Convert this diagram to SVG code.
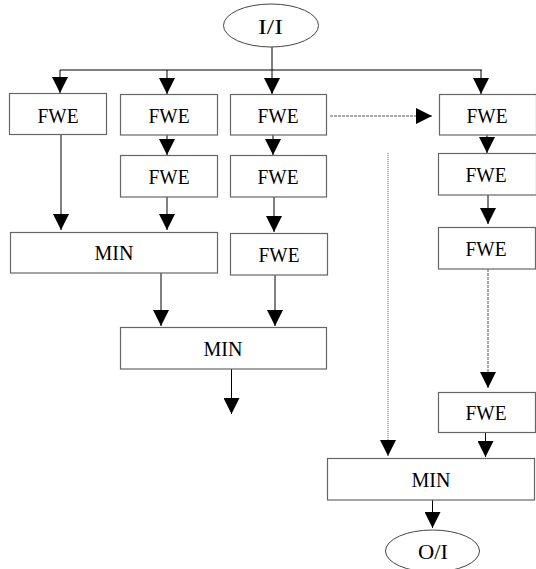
<svg xmlns="http://www.w3.org/2000/svg" width="536" height="569" viewBox="0 0 536 569">
<style>
.box{fill:#fff;stroke:#666;stroke-width:1.2}
.ell{fill:#fff;stroke:#444;stroke-width:1}
text{font-family:'Liberation Serif','DejaVu Serif',serif;font-size:22px;fill:#000;text-anchor:middle}
.c{stroke:#000;stroke-width:1;fill:none}
.d{stroke:#555;stroke-width:1;fill:none;stroke-dasharray:3,1}
.o{stroke:#666;stroke-width:1;fill:none;stroke-dasharray:1,1}
</style>
<defs>
<marker id="ah" markerUnits="userSpaceOnUse" markerWidth="16" markerHeight="16" viewBox="0 0 15 15" refX="15" refY="7.5" orient="auto">
<path d="M0,0 L15,7.5 L0,15 z" fill="#000"/>
</marker>
</defs>
<rect width="536" height="569" fill="#fff"/>
<g id="connectors">
<line class="c" x1="272" y1="47" x2="272" y2="70"/>
<line class="c" x1="60" y1="70" x2="482" y2="70" stroke-width="1.6"/>
<line class="c" x1="60" y1="70" x2="60" y2="93" marker-end="url(#ah)"/>
<line class="c" x1="167" y1="70" x2="167" y2="94" marker-end="url(#ah)"/>
<line class="c" x1="272" y1="70" x2="272" y2="94" marker-end="url(#ah)"/>
<line class="c" x1="481" y1="70" x2="481" y2="94" marker-end="url(#ah)"/>
<line class="c" x1="167" y1="135" x2="167" y2="155" marker-end="url(#ah)"/>
<line class="c" x1="273" y1="135" x2="273" y2="155" marker-end="url(#ah)"/>
<line class="c" x1="487" y1="135" x2="487" y2="153" marker-end="url(#ah)"/>
<line class="d" x1="330" y1="116" x2="432" y2="116" marker-end="url(#ah)"/>
<line class="c" x1="61" y1="135" x2="61" y2="230" marker-end="url(#ah)"/>
<line class="c" x1="167" y1="197" x2="167" y2="230" marker-end="url(#ah)"/>
<line class="c" x1="274" y1="197" x2="274" y2="232" marker-end="url(#ah)"/>
<line class="c" x1="488" y1="195" x2="488" y2="224" marker-end="url(#ah)"/>
<line class="c" x1="161" y1="273" x2="161" y2="326" marker-end="url(#ah)"/>
<line class="c" x1="275" y1="275" x2="275" y2="326" marker-end="url(#ah)"/>
<line class="c" x1="231.5" y1="369" x2="231.5" y2="414" marker-end="url(#ah)"/>
<line class="d" x1="488" y1="269" x2="488" y2="388" marker-end="url(#ah)"/>
<line class="c" x1="485.5" y1="432" x2="485.5" y2="457" marker-end="url(#ah)"/>
<line class="o" x1="388" y1="153" x2="388" y2="456" marker-end="url(#ah)"/>
<line class="c" x1="432.5" y1="500" x2="432.5" y2="528" marker-end="url(#ah)"/>
</g>
<g font-family="Liberation Serif, DejaVu Serif, serif" font-size="22" text-anchor="middle" fill="#000">
<g id="n-in"><ellipse class="ell" cx="271" cy="25.5" rx="47.5" ry="21.5"/><text x="270.5" y="34" textLength="25" lengthAdjust="spacingAndGlyphs">I/I</text></g>
<g id="n-fwe1"><rect class="box" x="9.5" y="93.5" width="97" height="41"/><text x="58" y="122.5" textLength="41" lengthAdjust="spacingAndGlyphs">FWE</text></g>
<g id="n-fwe2"><rect class="box" x="120.5" y="94.5" width="97" height="40.5"/><text x="169" y="122.5" textLength="41" lengthAdjust="spacingAndGlyphs">FWE</text></g>
<g id="n-fwe3"><rect class="box" x="230.5" y="94.5" width="96" height="40.5"/><text x="278" y="122.5" textLength="41" lengthAdjust="spacingAndGlyphs">FWE</text></g>
<g id="n-fwe4"><rect class="box" x="439.5" y="94.5" width="97" height="40.5"/><text x="487" y="122.5" textLength="41" lengthAdjust="spacingAndGlyphs">FWE</text></g>
<g id="n-fwe2b"><rect class="box" x="120.5" y="155.5" width="97" height="41.5"/><text x="169" y="184" textLength="41" lengthAdjust="spacingAndGlyphs">FWE</text></g>
<g id="n-fwe3b"><rect class="box" x="230.5" y="155.5" width="96" height="41.5"/><text x="278" y="184" textLength="41" lengthAdjust="spacingAndGlyphs">FWE</text></g>
<g id="n-fwe4b"><rect class="box" x="438.5" y="153.5" width="98" height="41.5"/><text x="486" y="182" textLength="41" lengthAdjust="spacingAndGlyphs">FWE</text></g>
<g id="n-min1"><rect class="box" x="10.5" y="232.5" width="207" height="40.5"/><text x="114" y="260" textLength="39" lengthAdjust="spacingAndGlyphs">MIN</text></g>
<g id="n-fwe3c"><rect class="box" x="230.5" y="233.5" width="97" height="41.5"/><text x="279" y="262" textLength="41" lengthAdjust="spacingAndGlyphs">FWE</text></g>
<g id="n-fwe4c"><rect class="box" x="438.5" y="227.5" width="97" height="41.5"/><text x="486" y="256" textLength="41" lengthAdjust="spacingAndGlyphs">FWE</text></g>
<g id="n-min2"><rect class="box" x="120.5" y="327.5" width="206" height="41.5"/><text x="223" y="356" textLength="39" lengthAdjust="spacingAndGlyphs">MIN</text></g>
<g id="n-fwe4d"><rect class="box" x="438.5" y="392.5" width="97" height="40"/><text x="486" y="420" textLength="41" lengthAdjust="spacingAndGlyphs">FWE</text></g>
<g id="n-min3"><rect class="box" x="327.5" y="458.5" width="207" height="41.5"/><text x="431" y="487" textLength="39" lengthAdjust="spacingAndGlyphs">MIN</text></g>
<g id="n-out"><ellipse class="ell" cx="432.5" cy="551" rx="47" ry="21"/><text x="433" y="558.5" textLength="30" lengthAdjust="spacingAndGlyphs">O/I</text></g>
</g>
</svg>
